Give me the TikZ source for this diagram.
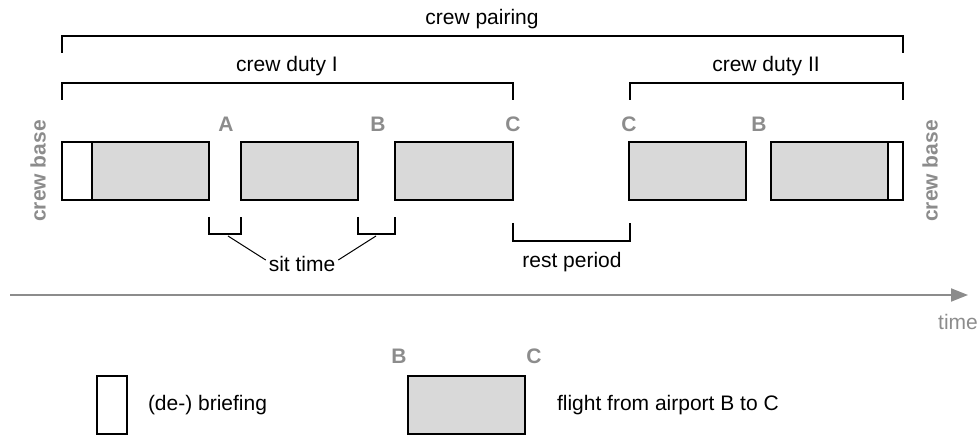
\documentclass[tikz,border=0pt]{standalone}
\usepackage{fontspec}
\setmainfont{Liberation Sans}
\usetikzlibrary{arrows.meta}
\definecolor{flightgray}{HTML}{D9D9D9}
\definecolor{labelgray}{HTML}{8C8C8C}
\tikzset{
  every node/.style={inner sep=0pt, outer sep=0pt},
  box/.style={draw=black, line width=1.2pt, inner sep=0pt, outer sep=0pt, anchor=north west},
  flightbox/.style={box, fill=flightgray, minimum width=117pt, minimum height=58pt},
  briefbox/.style={box, fill=white, minimum height=58pt},
  bracketline/.style={draw=black, line width=1.2pt},
  txt/.style={font=\fontsize{21}{24}\selectfont, text=black},
  airport/.style={font=\fontsize{21}{24}\selectfont\bfseries, text=labelgray},
  basetxt/.style={font=\fontsize{21}{24}\selectfont\bfseries, text=labelgray, rotate=90},
}
\begin{document}
\begin{tikzpicture}[x=1pt, y=-1pt]
\useasboundingbox (0,0) rectangle (979,438);

% duty I flights
\node[briefbox, minimum width=30pt] (br1) at (62,142) {};
\node[flightbox] (f1) at (92,142) {};
\node[flightbox] (f2) at (241,142) {};
\node[flightbox, minimum width=118pt] (f3) at (395,142) {};
% duty II flights
\node[flightbox] (f4) at (629,142) {};
\node[flightbox] (f5) at (771,142) {};
\node[briefbox, minimum width=15pt] (br2) at (888,142) {};

% airport letters
\node[airport] (la) at (226,124) {A};
\node[airport] (lb1) at (378,124) {B};
\node[airport] (lc1) at (513,124) {C};
\node[airport] (lc2) at (629,124) {C};
\node[airport] (lb2) at (759,124) {B};

% crew base labels
\node[basetxt] (cbl) at (38,171) {crew base};
\node[basetxt] (cbr) at (930,171) {crew base};

% pairing and duty brackets
\draw[bracketline] (62,53) -- (62,36) -- (903,36) -- (903,53);
\node[txt] (pairing) at (482,19) {crew pairing};
\draw[bracketline] (62,100) -- (62,83) -- (513,83) -- (513,100);
\node[txt] (duty1) at (287,66) {crew duty I};
\draw[bracketline] (630,100) -- (630,83) -- (903,83) -- (903,100);
\node[txt] (duty2) at (766,66) {crew duty II};

% sit time brackets
\draw[bracketline] (209,217) -- (209,234) -- (241,234) -- (241,217);
\draw[bracketline] (358,217) -- (358,234) -- (395,234) -- (395,217);
\coordinate (sit1) at (228,236);
\coordinate (sit2) at (376,236);
\node[txt, inner sep=3pt] (sit) at (302,264) {sit time};
\draw[line width=1pt] (sit1) -- ([yshift=4pt]sit.west);
\draw[line width=1pt] (sit2) -- ([yshift=4pt]sit.east);

% rest period bracket
\draw[bracketline] (513,223) -- (513,241) -- (630,241) -- (630,223);
\node[txt] (rest) at (572,262) {rest period};

% time axis
\coordinate (axstart) at (10,295);
\coordinate (axend) at (968,295);
\draw[draw=labelgray, line width=2pt, -{Triangle[length=17pt, width=13pt]}] (axstart) -- (axend);
\node[txt, text=labelgray] (time) at (958,322) {time};

% legend
\node[briefbox, minimum width=30pt] (lgbrief) at (97,376) {};
\node[txt, anchor=west] (lgbrieftxt) at (148,405) {(de-) briefing};
\node[flightbox] (lgflight) at (408,376) {};
\node[airport] (lgb) at (399,356) {B};
\node[airport] (lgc) at (534,356) {C};
\node[txt, anchor=west] (lgflighttxt) at (557,405) {flight from airport B to C};
\end{tikzpicture}
\end{document}
